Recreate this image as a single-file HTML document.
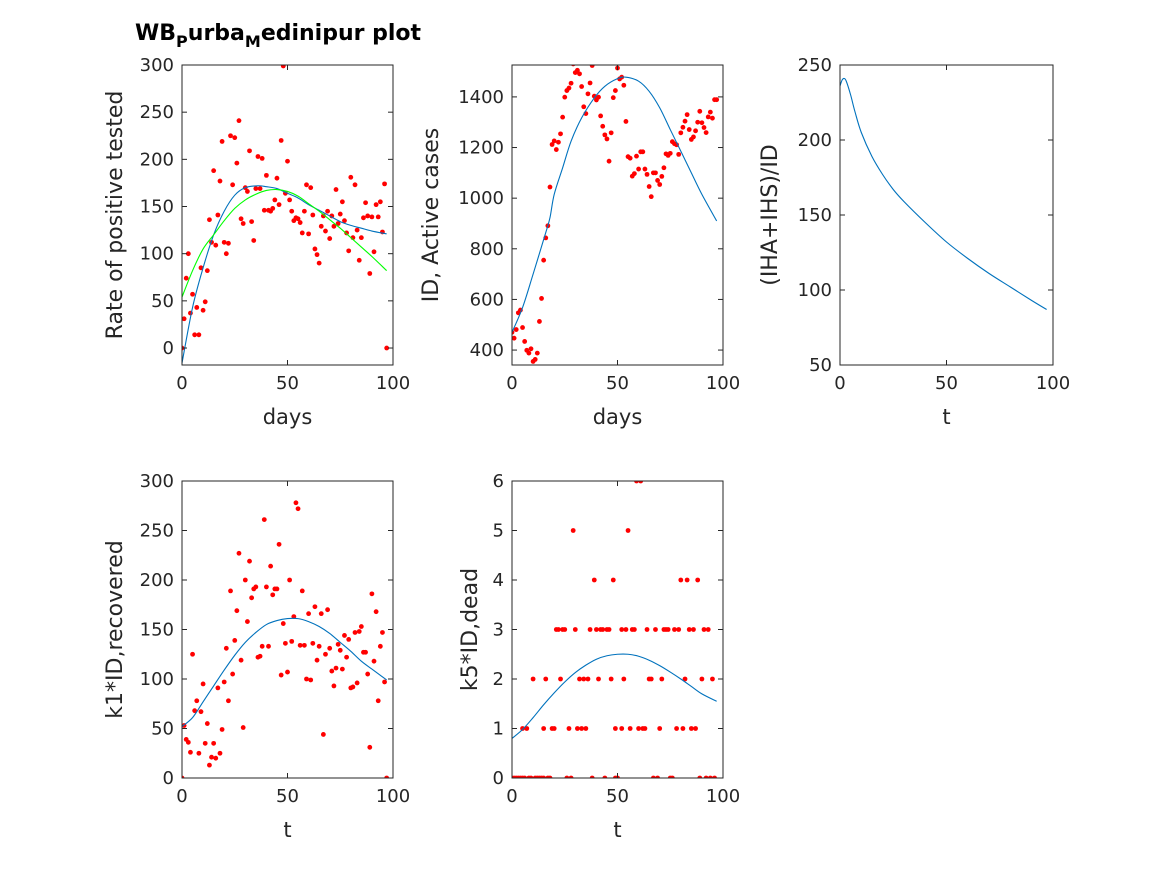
<!DOCTYPE html>
<html><head><meta charset="utf-8"><style>
body{margin:0;background:#fff;}
svg{display:block;font-family:"DejaVu Sans","Liberation Sans",sans-serif;}
</style></head><body>
<svg id="fig" width="1167" height="875" viewBox="0 0 1167 875" xmlns="http://www.w3.org/2000/svg">
<rect width="1167" height="875" fill="#fff"/>
<text x="135" y="40" font-size="22" font-weight="bold" fill="#000">WB<tspan font-size="16" dy="7">P</tspan><tspan dy="-7">urba</tspan><tspan font-size="16" dy="7">M</tspan><tspan dy="-7">edinipur plot</tspan></text>
</svg>
<script>
// ---- data ----
const rateVals=[0,31,74,100,37,57,14,43,14,85,40,49,82,136,112,188,109,141,177,219,112,100,111,225,173,223,196,241,137,132,170,166,209,134,114,169,203,169,201,146,183,146,145,148,157,180,152,220,299,164,198,157,145,135,138,137,133,122,145,173,121,170,141,105,99,90,129,140,124,145,116,140,129,168,132,142,155,135,122,103,181,117,173,125,93,117,138,154,140,79,139,102,152,139,155,123,174,0];
const rateFitDays=[0,5,10,15,20,25,30,36,40,45,50,55,60,65,70,75,80,85,90,97];
const rateFitBlue=[-16,43,85,120,145,162,170,172,171,169,164,159,152,146,140,134,130,127,124,121];
const rateFitGreenDays=[0,5,10,15,20,25,30,35,40,45,50,55,60,65,70,75,80,85,90,97];
const rateFitGreen=[54,82,105,120,135,148,157,163,167,168,166,161,153,145,136,127,117,107,97,82];
const activeVals=[470,447,481,547,558,489,434,399,388,405,355,363,388,513,604,755,843,891,1044,1212,1226,1192,1221,1254,1320,1399,1425,1435,1454,1530,1496,1505,1491,1441,1361,1334,1412,1455,1524,1403,1388,1399,1325,1284,1250,1234,1146,1258,1397,1425,1514,1471,1478,1446,1303,1164,1158,1087,1097,1166,1115,1183,1183,1115,1094,1046,1006,1100,1100,1070,1054,1086,1120,1175,1169,1177,1223,1215,1211,1173,1258,1280,1304,1330,1271,1232,1242,1266,1300,1343,1298,1279,1259,1321,1340,1316,1389,1389];
const activeFitDays=[0,5,10,16,18,20,24,28,33,39,44,50,54,60,65,70,75,80,85,90,97];
const activeFit=[470,568,700,864,923,1015,1120,1225,1317,1396,1442,1472,1478,1462,1422,1357,1271,1186,1100,1015,910];
const ratioDays=[0,1,2,3,5,7,10,15,20,25,30,40,50,60,70,80,90,97];
const ratioVals=[236,240,241,239,230,219,205,189,177,167,159,145,132,121,111,102,93,87];
const recVals=[0,53,39,36,26,125,68,78,25,67,95,35,55,13,21,35,20,91,25,49,97,131,78,189,105,139,169,227,119,51,200,158,219,182,191,193,122,123,133,261,193,133,214,185,191,191,236,104,156,136,107,200,138,163,278,272,134,189,134,100,166,99,136,173,119,133,166,44,125,170,131,108,93,111,135,129,110,144,122,140,91,92,147,96,148,153,127,127,105,31,186,118,168,78,133,147,97,0];
const recFitDays=[0,5,10,15,20,25,30,35,40,45,50,55,60,65,70,75,80,85,90,97];
const recFit=[52,61,77,93,109,124,137,147,155,159,161,161,158,153,146,137,128,118,110,99];
const deadDays=[0,1,2,3,4,5,6,8,9,11,12,13,14,15,17,18,26,28,38,44,49,50,67,69,75,76,89,92,94,96,
5,7,15,19,20,27,31,33,35,49,52,56,60,62,63,70,78,81,85,87,
10,16,23,32,34,36,41,47,53,65,66,71,82,90,95,
21,22,24,25,30,37,40,42,43,45,46,52,54,57,58,64,68,72,73,74,77,79,84,86,91,93,
39,48,80,83,88,29,55,59,61];
const deadVals=[0,0,0,0,0,0,0,0,0,0,0,0,0,0,0,0,0,0,0,0,0,0,0,0,0,0,0,0,0,0,
1,1,1,1,1,1,1,1,1,1,1,1,1,1,1,1,1,1,1,1,
2,2,2,2,2,2,2,2,2,2,2,2,2,2,2,
3,3,3,3,3,3,3,3,3,3,3,3,3,3,3,3,3,3,3,3,3,3,3,3,3,3,
4,4,4,4,4,5,5,6,6];
const deadFitDays=[0,5,10,15,20,25,30,35,40,45,50,55,60,65,70,75,80,85,90,97];
const deadFit=[0.8,0.98,1.22,1.48,1.72,1.94,2.13,2.28,2.4,2.47,2.5,2.5,2.46,2.38,2.27,2.14,2.0,1.85,1.7,1.55];
const xTicks=[0,50,100];

const NS="http://www.w3.org/2000/svg";
const svg=document.getElementById('fig');
function mk(tag,attrs,parent){const e=document.createElementNS(NS,tag);for(const k in attrs)e.setAttribute(k,attrs[k]);(parent||svg).appendChild(e);return e;}
function idx(n){return Array.from({length:n},(_,i)=>i);}
function smoothPath(pts){let d=`M${pts[0][0]},${pts[0][1]}`;for(let i=0;i<pts.length-1;i++){const p0=pts[Math.max(0,i-1)],p1=pts[i],p2=pts[i+1],p3=pts[Math.min(pts.length-1,i+2)];
const c1=[p1[0]+(p2[0]-p0[0])/6,p1[1]+(p2[1]-p0[1])/6],c2=[p2[0]-(p3[0]-p1[0])/6,p2[1]-(p3[1]-p1[1])/6];d+=` C${c1[0]},${c1[1]} ${c2[0]},${c2[1]} ${p2[0]},${p2[1]}`;}return d;}

function axes(cfg){
  const {x0,x1,y0,y1,ymin,ymax,yTicks,name,ylabel,xlabel}=cfg;
  const g=mk('g',{});
  
  
  const sx=v=>x0+(v-0)/100*(x1-x0);
  const sy=v=>y1-(v-ymin)/(ymax-ymin)*(y1-y0);
  const cid='clip-'+name;
  const cp=mk('clipPath',{id:cid},g);mk('rect',{x:x0,y:y0,width:x1-x0,height:y1-y0},cp);
  const plot=mk('g',{'clip-path':`url(#${cid})`},g);
  xTicks.forEach(t=>{const x=sx(t);
    mk('line',{x1:x,x2:x,y1:y1,y2:y1-5,stroke:'#262626'},g);mk('line',{x1:x,x2:x,y1:y0,y2:y0+5,stroke:'#262626'},g);
    const tx=mk('text',{x:x,y:y1+24,'font-size':18,'text-anchor':'middle',fill:'#262626'},g);tx.textContent=t;
    
    });
  yTicks.forEach(t=>{const y=sy(t);
    mk('line',{x1:x0,x2:x0+5,y1:y,y2:y,stroke:'#262626'},g);mk('line',{x1:x1,x2:x1-5,y1:y,y2:y,stroke:'#262626'},g);
    const tx=mk('text',{x:x0-8,y:y+6,'font-size':18,'text-anchor':'end',fill:'#262626'},g);tx.textContent=t;
    
    });
  mk('rect',{x:x0,y:y0,width:x1-x0,height:y1-y0,fill:'none',stroke:'#262626','stroke-width':1},g);
  const xl=mk('text',{x:(x0+x1)/2,y:y1+59,'font-size':21,'text-anchor':'middle',fill:'#262626'},g);xl.textContent=xlabel;
  
  
  const lx=cfg.ylx,ly=(y0+y1)/2;
  const yl=mk('text',{x:lx,y:ly,'font-size':22,'text-anchor':'middle',fill:'#262626',transform:`rotate(-90 ${lx} ${ly})`},g);yl.textContent=ylabel;
  
  
  return {sx,sy,plot};
}
function dots(ax,xs,ys,name){xs.forEach((x,i)=>{const c=mk('circle',{cx:ax.sx(x),cy:ax.sy(ys[i]),r:2.4,fill:'#ff0000'},ax.plot);
  
  });}
function line(ax,xs,ys,color,name){const p=mk('path',{d:smoothPath(xs.map((x,i)=>[ax.sx(x),ax.sy(ys[i])])),fill:'none',stroke:color,'stroke-width':1.1},ax.plot);
  
  }

const a1=axes({x0:182,x1:393,y0:65,y1:365,ymin:-18,ymax:300,yTicks:[0,50,100,150,200,250,300],name:'positive-rate-plot',ylabel:'Rate of positive tested',xlabel:'days',ylx:122});
dots(a1,idx(rateVals.length),rateVals,'positive-rate-point');
line(a1,rateFitDays,rateFitBlue,'#0072bd','positive-rate-fit-blue');
line(a1,rateFitGreenDays,rateFitGreen,'#00ff00','positive-rate-fit-green');

const a2=axes({x0:512,x1:723,y0:65,y1:365,ymin:341,ymax:1526,yTicks:[400,600,800,1000,1200,1400],name:'active-cases-plot',ylabel:'ID, Active cases',xlabel:'days',ylx:438});
dots(a2,idx(activeVals.length),activeVals,'active-case-point');
line(a2,activeFitDays,activeFit,'#0072bd','active-cases-fit');

const a3=axes({x0:840,x1:1053,y0:65,y1:365,ymin:50,ymax:250,yTicks:[50,100,150,200,250],name:'ratio-plot',ylabel:'(IHA+IHS)/ID',xlabel:'t',ylx:777});
line(a3,ratioDays,ratioVals,'#0072bd','ratio-line');

const a4=axes({x0:182,x1:393,y0:481,y1:778,ymin:0,ymax:300,yTicks:[0,50,100,150,200,250,300],name:'recovered-plot',ylabel:'k1*ID,recovered',xlabel:'t',ylx:122});
dots(a4,idx(recVals.length),recVals,'recovered-point');
line(a4,recFitDays,recFit,'#0072bd','recovered-fit');

const a5=axes({x0:512,x1:723,y0:481,y1:778,ymin:0,ymax:6,yTicks:[0,1,2,3,4,5,6],name:'dead-plot',ylabel:'k5*ID,dead',xlabel:'t',ylx:477});
dots(a5,deadDays,deadVals,'dead-point');
line(a5,deadFitDays,deadFit,'#0072bd','dead-fit');
</script>
</body></html>
